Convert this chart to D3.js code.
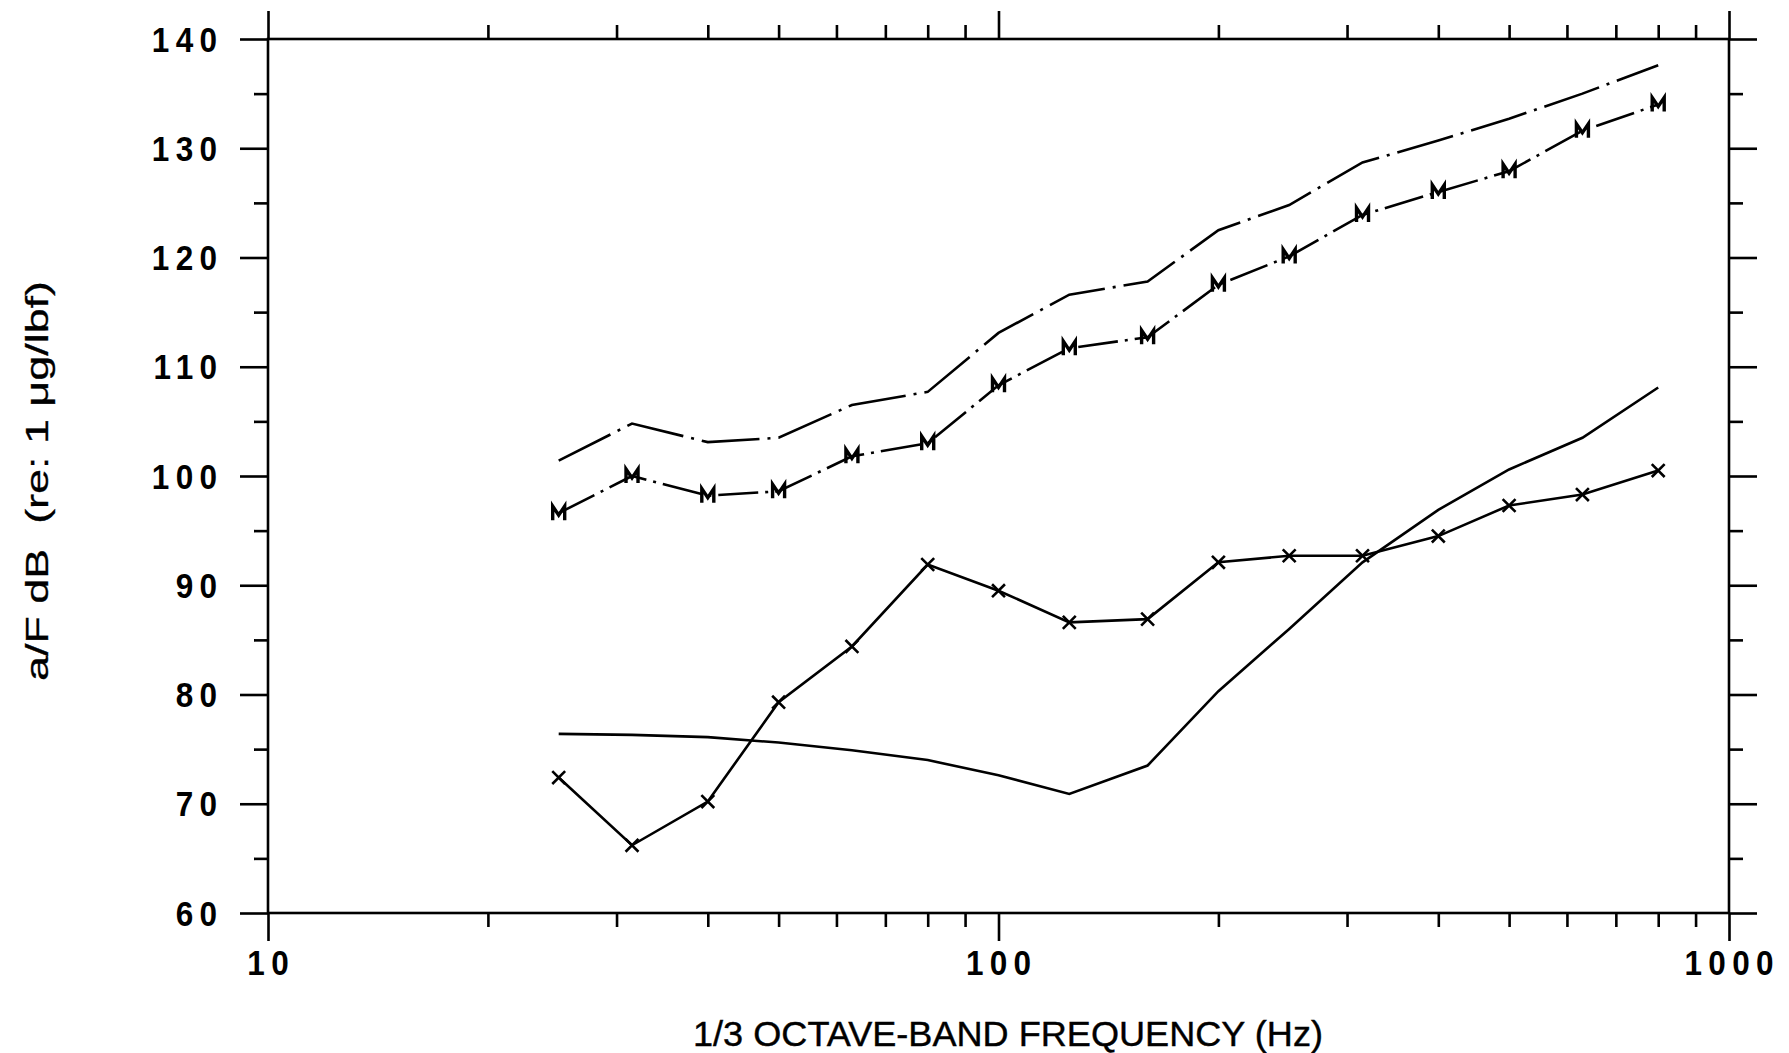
<!DOCTYPE html>
<html>
<head>
<meta charset="utf-8">
<script src="https://cdn.jsdelivr.net/npm/d3@7"></script>
<style>
  html, body { margin: 0; padding: 0; background: #fff; }
  svg text { font-family: "Liberation Sans", Arial, sans-serif; fill: #000; }
</style>
</head>
<body>
<svg id="chart" width="1789" height="1053"></svg>
<script>
// ---- Data ----
const freqs = [25, 31.5, 40, 50, 63, 80, 100, 125, 160, 200, 250, 315, 400, 500, 630, 800];
const upperDashDot = [101.4, 104.8, 103.1, 103.5, 106.5, 107.7, 113.1, 116.6, 117.8, 122.5, 124.8, 128.7, 130.7, 132.7, 135.0, 137.6];
const mSeries      = [96.6, 100.0, 98.2, 98.6, 101.8, 103.0, 108.3, 111.7, 112.7, 117.5, 120.1, 123.9, 126.0, 127.9, 131.6, 134.0];
const xSeries      = [72.4, 66.2, 70.2, 79.3, 84.4, 91.9, 89.5, 86.6, 86.9, 92.1, 92.7, 92.7, 94.5, 97.3, 98.3, 100.5];
const smoothSolid  = [76.4, 76.3, 76.1, 75.6, 74.9, 74.0, 72.6, 70.9, 73.5, 80.3, 86.0, 92.1, 96.9, 100.6, 103.5, 108.1];

const xMajorTicks = [10, 100, 1000];
const xMinorTicks = [20, 30, 40, 50, 60, 70, 80, 90, 200, 300, 400, 500, 600, 700, 800, 900];
const yMajorTicks = [60, 70, 80, 90, 100, 110, 120, 130, 140];
const yMinorTicks = [65, 75, 85, 95, 105, 115, 125, 135];

const xTitle = "1/3 OCTAVE-BAND FREQUENCY (Hz)";
const yTitle = "a/F dB  (re: 1 \u03BCg/lbf)";

// ---- Layout ----
const svg = d3.select("#chart");
const L = 268, R = 1729, T = 39, B = 913;
const x = d3.scaleLog().domain([10, 1000]).range([L, R]);
const y = d3.scaleLinear().domain([60, 140]).range([B, T]);
const MAJ = 28, MIN = 14;
const SW = 2.6;
const SX = 0.9;   // horizontal compression for the plotter-like lettering
const LS = 7;     // letter spacing of tick labels

const g = svg.append("g");

// frame
g.append("rect").attr("x", L).attr("y", T).attr("width", R - L).attr("height", B - T)
  .attr("fill", "none").attr("stroke", "#000").attr("stroke-width", SW);

function styleAxis(sel) {
  sel.select(".domain").remove();
  sel.selectAll(".tick line").attr("stroke", "#000").attr("stroke-width", SW);
  sel.selectAll(".tick text").remove();
}
g.append("g").attr("transform", `translate(0,${B})`)
  .call(d3.axisBottom(x).tickValues(xMajorTicks).tickSize(MAJ)).call(styleAxis);
g.append("g").attr("transform", `translate(0,${B})`)
  .call(d3.axisBottom(x).tickValues(xMinorTicks).tickSize(MIN)).call(styleAxis);
g.append("g").attr("transform", `translate(0,${T})`)
  .call(d3.axisTop(x).tickValues(xMajorTicks).tickSize(MAJ)).call(styleAxis);
g.append("g").attr("transform", `translate(0,${T})`)
  .call(d3.axisTop(x).tickValues(xMinorTicks).tickSize(MIN)).call(styleAxis);
g.append("g").attr("transform", `translate(${L},0)`)
  .call(d3.axisLeft(y).tickValues(yMajorTicks).tickSize(MAJ)).call(styleAxis);
g.append("g").attr("transform", `translate(${L},0)`)
  .call(d3.axisLeft(y).tickValues(yMinorTicks).tickSize(MIN)).call(styleAxis);
g.append("g").attr("transform", `translate(${R},0)`)
  .call(d3.axisRight(y).tickValues(yMajorTicks).tickSize(MAJ)).call(styleAxis);
g.append("g").attr("transform", `translate(${R},0)`)
  .call(d3.axisRight(y).tickValues(yMinorTicks).tickSize(MIN)).call(styleAxis);

// tick labels
g.selectAll(".ylab").data(yMajorTicks).enter().append("text")
  .attr("transform", d => `translate(${217 + LS * SX},${y(d)}) scale(${SX},1)`)
  .attr("dy", "0.36em").attr("letter-spacing", LS)
  .attr("text-anchor", "end").attr("font-size", 35).attr("font-weight", "bold")
  .text(d => d);
g.selectAll(".xlab").data(xMajorTicks).enter().append("text")
  .attr("transform", d => `translate(${x(d) + LS * SX / 2},975) scale(${SX},1)`)
  .attr("letter-spacing", LS)
  .attr("text-anchor", "middle").attr("font-size", 35).attr("font-weight", "bold")
  .text(d => d);

// axis titles
g.append("text").attr("x", 1008).attr("y", 1046).attr("text-anchor", "middle")
  .attr("font-size", 35).attr("textLength", 630).attr("lengthAdjust", "spacingAndGlyphs")
  .attr("stroke", "#000").attr("stroke-width", 0.4)
  .text(xTitle);
g.append("text").attr("transform", "translate(48,481) rotate(-90)").attr("text-anchor", "middle")
  .attr("font-size", 32).attr("textLength", 400).attr("lengthAdjust", "spacingAndGlyphs")
  .attr("stroke", "#000").attr("stroke-width", 0.3)
  .style("white-space", "pre")
  .text(yTitle);

// lines
const line = d3.line().x(d => x(d[0])).y(d => y(d[1]));
function pts(vals) { return freqs.map((f, i) => [f, vals[i]]); }

g.append("path").datum(pts(upperDashDot)).attr("d", line)
  .attr("fill", "none").attr("stroke", "#000").attr("stroke-width", SW)
  .attr("stroke-dasharray", "58,8,3,8");
g.append("path").datum(pts(mSeries)).attr("d", line)
  .attr("fill", "none").attr("stroke", "#000").attr("stroke-width", SW)
  .attr("stroke-dasharray", "40,7,3,7");
g.append("path").datum(pts(xSeries)).attr("d", line)
  .attr("fill", "none").attr("stroke", "#000").attr("stroke-width", SW);
g.append("path").datum(pts(smoothSolid)).attr("d", line)
  .attr("fill", "none").attr("stroke", "#000").attr("stroke-width", SW);

// markers
const mPath = "M-6,7 L-6,-7 L0,2 L6,-7 L6,7";
g.selectAll(".mmark").data(pts(mSeries)).enter().append("path")
  .attr("transform", d => `translate(${x(d[0])},${y(d[1])})`)
  .attr("d", mPath).attr("fill", "none").attr("stroke", "#000").attr("stroke-width", 3.4)
  .attr("stroke-linejoin", "miter");
const xSym = d3.symbol().type(d3.symbolX).size(110);
g.selectAll(".xmark").data(pts(xSeries)).enter().append("path")
  .attr("transform", d => `translate(${x(d[0])},${y(d[1])})`)
  .attr("d", xSym).attr("fill", "none").attr("stroke", "#000").attr("stroke-width", 2.6);
</script>
</body>
</html>
